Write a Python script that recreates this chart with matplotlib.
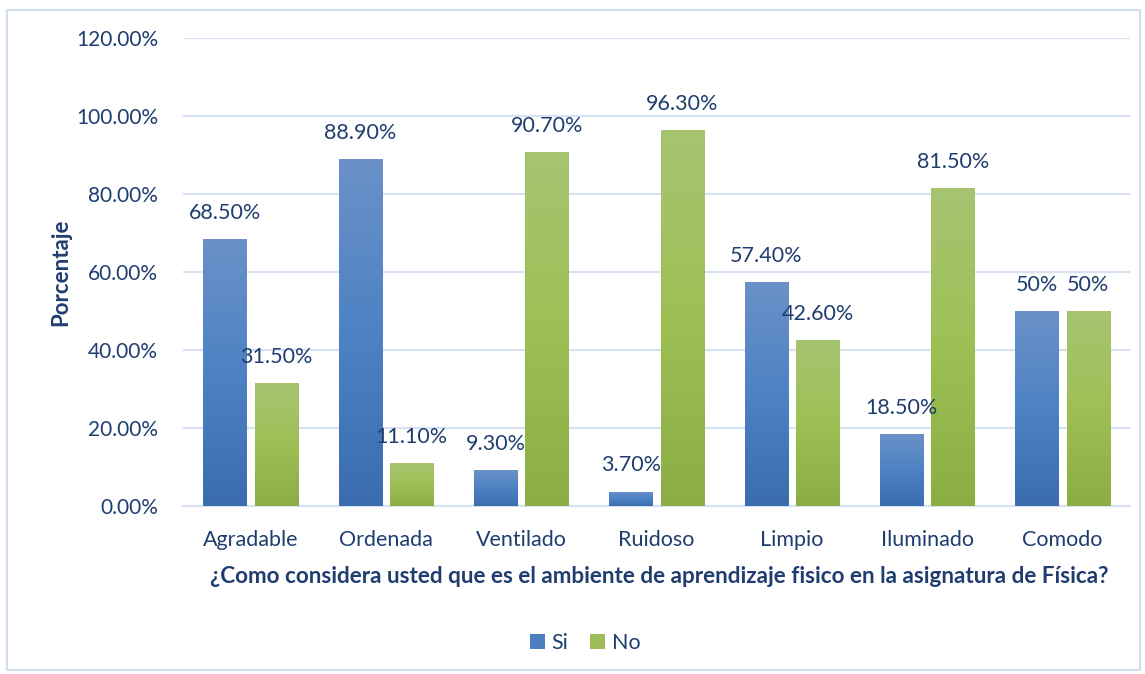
import matplotlib.pyplot as plt
import numpy as np
from matplotlib.colors import LinearSegmentedColormap
from matplotlib.patches import Rectangle, Patch

plt.rcParams['font.family'] = ['Lato', 'DejaVu Sans']

categorias = ['Agradable', 'Ordenada', 'Ventilado', 'Ruidoso', 'Limpio', 'Iluminado', 'Comodo']
si = [0.685, 0.889, 0.093, 0.037, 0.574, 0.185, 0.50]
no = [0.315, 0.111, 0.907, 0.963, 0.426, 0.815, 0.50]
etiquetas_si = ['68.50%', '88.90%', '9.30%', '3.70%', '57.40%', '18.50%', '50%']
etiquetas_no = ['31.50%', '11.10%', '90.70%', '96.30%', '42.60%', '81.50%', '50%']

texto = '#1F3D6E'
grid = '#D6E2F3'

fig = plt.figure(figsize=(11.45, 6.74), dpi=100)
# borde exterior del grafico
fig.patches.append(Rectangle((7 / 1145, 4 / 674), 1133 / 1145, 660 / 674, transform=fig.transFigure,
                             fill=False, edgecolor='#D0DEF0', linewidth=1.5))
ax = fig.add_axes([0.160, 0.2493, 0.827, 0.6943])

x = np.arange(len(categorias))
w = 0.32
off = 0.19

azul = LinearSegmentedColormap.from_list('azul', ['#3B6DAE', '#4D82C4', '#6B91C8'])
verde = LinearSegmentedColormap.from_list('verde', ['#8AAE44', '#9DC055', '#A7C471'])
grad = np.linspace(0, 1, 256).reshape(-1, 1)

def barras(pos, vals, cmap):
    bars = ax.bar(pos, vals, w, color='none', edgecolor='none', zorder=3)
    for b in bars:
        x0, y0 = b.get_x(), b.get_y()
        im = ax.imshow(grad, cmap=cmap, aspect='auto', origin='lower',
                       extent=[x0, x0 + b.get_width(), y0, y0 + b.get_height()], zorder=3)
        im.set_clip_path(b)
    return bars

barras(x - off, si, azul)
barras(x + off, no, verde)

for i in range(len(x)):
    ax.text(x[i] - off, si[i] + 0.067, etiquetas_si[i], ha='center', va='center', color=texto, fontsize=15.5, zorder=4)
    ax.text(x[i] + off, no[i] + 0.067, etiquetas_no[i], ha='center', va='center', color=texto, fontsize=15.5, zorder=4)

ax.set_xlim(-0.5, len(x) - 0.5)
ax.set_ylim(0, 1.2)
ax.set_yticks(np.arange(0, 1.21, 0.2))
ax.set_yticklabels(['%.2f%%' % (v * 100) for v in np.arange(0, 1.21, 0.2)])
ax.set_xticks(x)
ax.set_xticklabels(categorias)
ax.tick_params(axis='both', length=0, labelsize=15.5, labelcolor=texto)
ax.tick_params(axis='y', pad=18, labelsize=15)
ax.tick_params(axis='x', pad=17)
ax.grid(axis='y', color=grid, linewidth=1.5, zorder=0)
ax.set_axisbelow(True)
for s in ['top', 'right', 'left']:
    ax.spines[s].set_visible(False)
ax.spines['bottom'].set_color(grid)
ax.spines['bottom'].set_linewidth(1.5)

ax.set_ylabel('Porcentaje', fontsize=16, fontweight='bold', color=texto)
ax.yaxis.set_label_coords(-0.118, 0.5)
fig.text(0.576, 0.145, '¿Como considera usted que es el ambiente de aprendizaje fisico en la asignatura de Física?',
         ha='center', va='center', fontsize=16.2, fontweight='bold', color=texto)

handles = [Patch(facecolor='#4D7FC0', label='Si'), Patch(facecolor='#9CBD5A', label='No')]
fig.legend(handles=handles, loc='center', bbox_to_anchor=(0.511, 0.046), ncol=2, frameon=False,
           fontsize=15.5, labelcolor=texto, handlelength=0.7, handleheight=0.7, handletextpad=0.3, columnspacing=1.0)

fig.savefig('out.png', dpi=100)
